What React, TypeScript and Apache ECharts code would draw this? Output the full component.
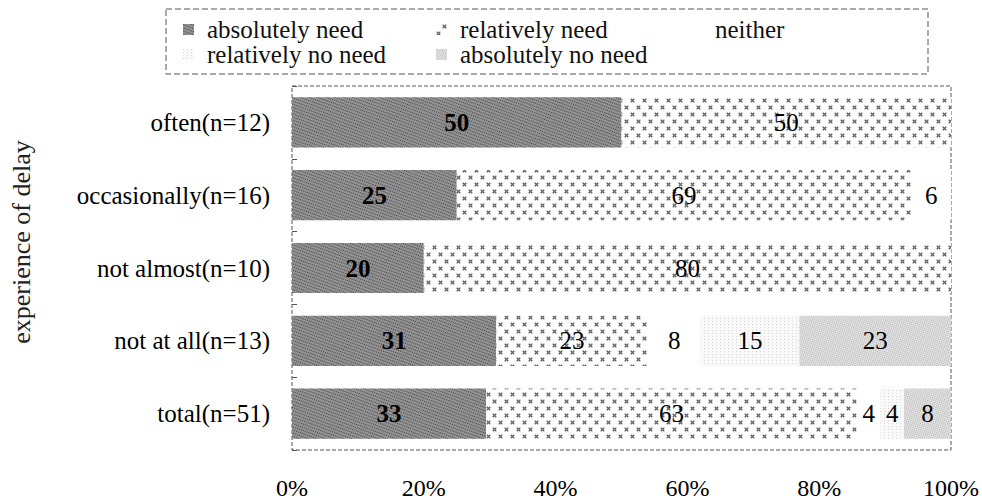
import React, { useEffect, useRef } from "react";
import * as echarts from "echarts";

const categories = ["often(n=12)", "occasionally(n=16)", "not almost(n=10)", "not at all(n=13)", "total(n=51)"];
const seriesNames = ["absolutely need", "relatively need", "neither", "relatively no need", "absolutely no need"];
const absolutelyNeed = [50, 25, 20, 31, 33];
const relativelyNeed = [50, 69, 80, 23, 63];
const neither = [0, 6, 0, 8, 4];
const relativelyNoNeed = [0, 0, 0, 15, 4];
const absolutelyNoNeed = [0, 0, 0, 23, 8];
const xTicks = [0, 20, 40, 60, 80, 100];

const FONT = "Liberation Serif";
const XSHAPE = "path://M0 2L2 0L5 3L8 0L10 2L7 5L10 8L8 10L5 7L2 10L0 8L3 5Z";

export default function App() {
  const ref = useRef<HTMLDivElement>(null);
  useEffect(() => {
    const chart = echarts.init(ref.current!, null, { renderer: "svg" });
    const raw = [absolutelyNeed, relativelyNeed, neither, relativelyNoNeed, absolutelyNoNeed];
    const sums = categories.map((_, i) => raw.reduce((s, a) => s + a[i], 0));
    const styles: any[] = [
      {
        color: "#929292",
        decal: { symbol: "rect", symbolSize: 1, color: "rgba(40,40,40,0.75)", dashArrayX: [1, 1], dashArrayY: [1, 1.5], rotation: 0.35 },
      },
      {
        color: "#ffffff",
        decal: { symbol: XSHAPE, symbolSize: 0.9, color: "#606060", dashArrayX: [[5, 7], [0, 6, 5, 1]], dashArrayY: [5, 1.5] },
      },
      { color: "#ffffff" },
      {
        color: "#f9f9f9",
        decal: { symbol: "rect", symbolSize: 1, color: "#d6d6d6", dashArrayX: [1, 3], dashArrayY: [1, 2] },
      },
      {
        color: "#e2e2e2",
        decal: { symbol: "rect", symbolSize: 1, color: "#b4b4b4", dashArrayX: [1, 1], dashArrayY: [1, 1], rotation: 0.3 },
      },
    ];
    const series = seriesNames.map((name, k) => ({
      name,
      type: "bar",
      stack: "all",
      barCategoryGap: "31%",
      itemStyle: styles[k],
      label: {
        show: true,
        position: "inside",
        color: "#000",
        fontFamily: FONT,
        fontSize: 25,
        fontWeight: k === 0 ? "bold" : "normal",
        formatter: (p: any) => (raw[k][p.dataIndex] ? String(raw[k][p.dataIndex]) : ""),
      },
      data: raw[k].map((v, i) => (v / sums[i]) * 100),
    }));
    const legendPos = [
      { left: 183, top: 17 },
      { left: 436, top: 17 },
      { left: 691, top: 17 },
      { left: 183, top: 42 },
      { left: 436, top: 42 },
    ];
    const legends = seriesNames.map((name, k) => ({
      data: [{ name, icon: "rect" }],
      left: legendPos[k].left,
      top: legendPos[k].top,
      padding: 0,
      itemWidth: 11,
      itemHeight: 11,
      itemGap: 0,
      selectedMode: false,
      textStyle: { fontFamily: FONT, fontSize: 25, color: "#111", lineHeight: 25, padding: [0, 0, 0, 8] },
    }));
    chart.setOption({
      animation: false,
      backgroundColor: "#fff",
      legend: legends,
      graphic: [
        {
          type: "rect",
          shape: { x: 166, y: 9, width: 762, height: 65 },
          style: { fill: "none", stroke: "#555", lineWidth: 1, lineDash: [6, 3] },
        },
      ],
      grid: {
        left: 292,
        right: 31,
        top: 86,
        bottom: 50,
        show: true,
        borderColor: "#555",
        borderWidth: 1,
        borderType: "dashed",
      },
      xAxis: {
        type: "value",
        min: xTicks[0],
        max: xTicks[xTicks.length - 1],
        interval: 20,
        axisLine: { show: false },
        axisTick: { show: false },
        splitLine: { show: false },
        axisLabel: { formatter: "{value}%", fontFamily: FONT, fontSize: 24, color: "#000", margin: 26 },
      },
      yAxis: {
        type: "category",
        data: categories,
        inverse: true,
        name: "experience of delay",
        nameLocation: "middle",
        nameRotate: 90,
        nameGap: 258,
        nameTextStyle: { fontFamily: FONT, fontSize: 26, color: "#222", padding: [0, 0, 0, 52] },
        axisLine: { show: false },
        axisTick: { show: true, inside: true, length: 5, lineStyle: { color: "#555" } },
        axisLabel: { fontFamily: FONT, fontSize: 25, color: "#000", margin: 22 },
      },
      series,
    });
    return () => chart.dispose();
  }, []);
  return <div ref={ref} style={{ position: "fixed", left: 0, top: 0, width: 982, height: 500 }} />;
}
